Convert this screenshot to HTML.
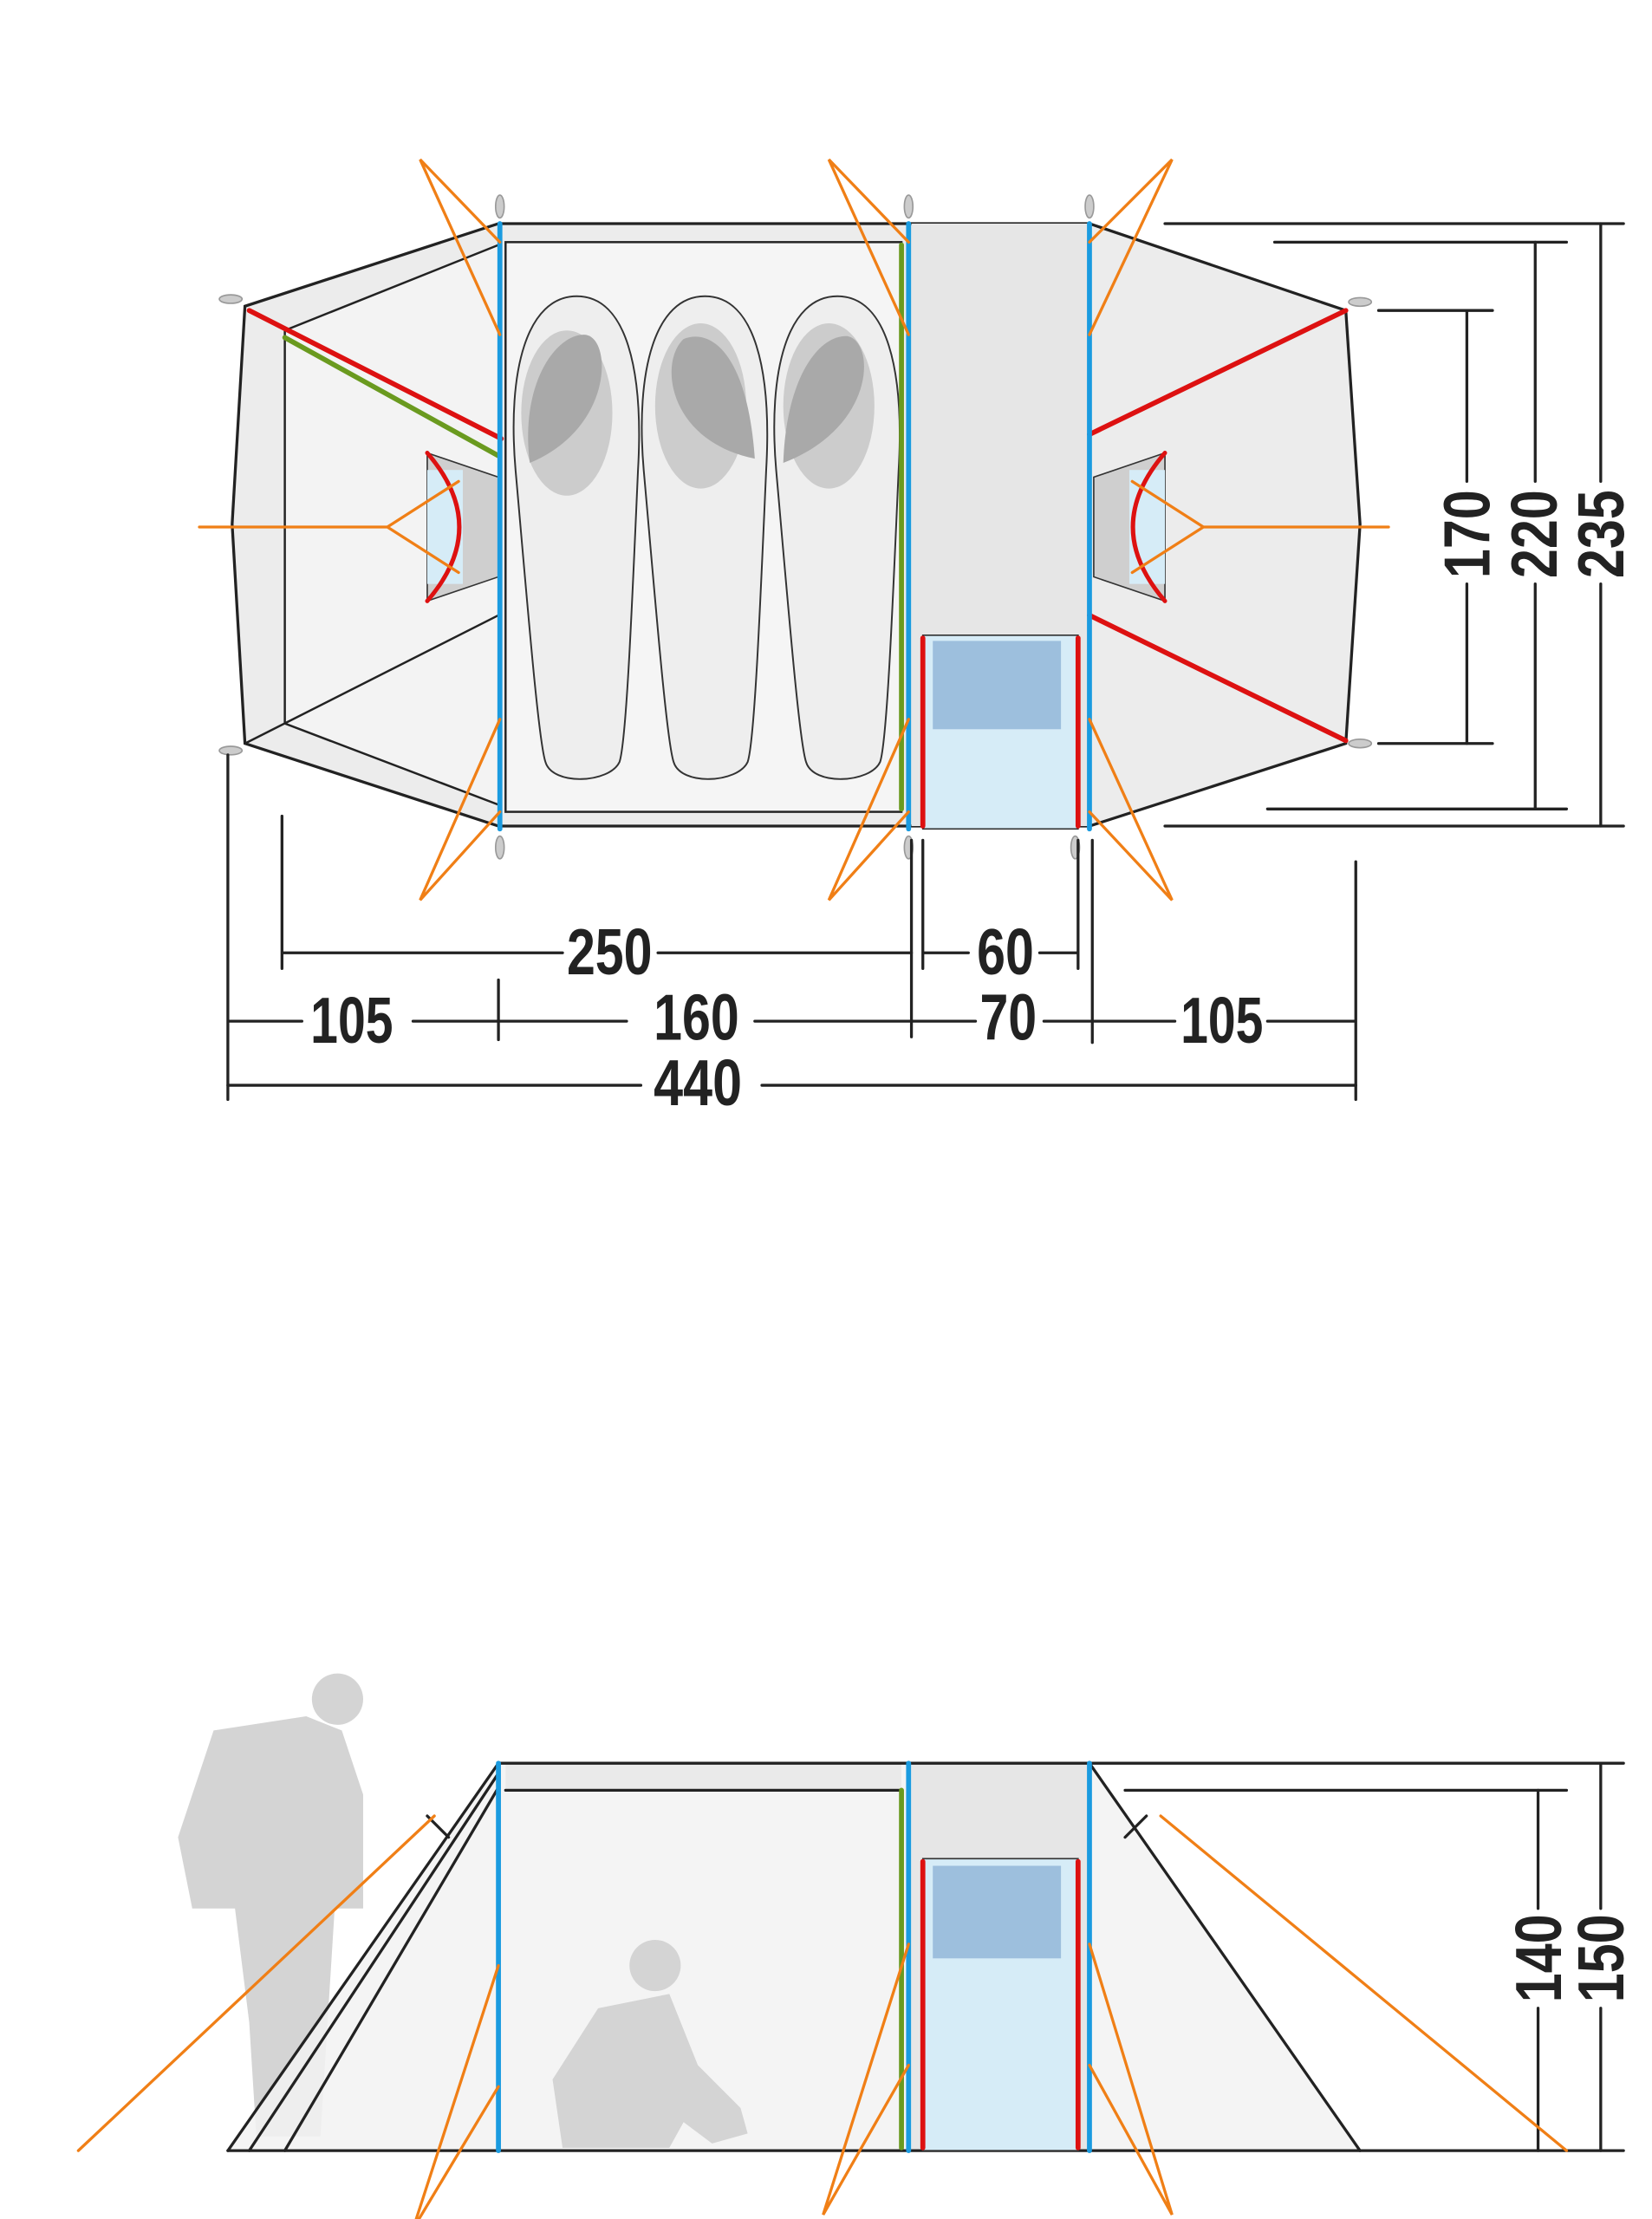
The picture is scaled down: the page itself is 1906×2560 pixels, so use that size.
<!DOCTYPE html>
<html><head><style>html,body{margin:0;padding:0;background:#fff}svg{display:block}
text{font-family:"Liberation Sans",sans-serif;font-weight:bold;font-size:46px;fill:#222}</style></head>
<body>
<svg width="1906" height="2560" viewBox="0 0 1160 1558" preserveAspectRatio="none" xmlns="http://www.w3.org/2000/svg">
<g stroke-linecap="round">
<!-- TOP VIEW -->
<path d="M350,157 L765,157 L945,218 L955,368 L945,522 L765,580 L350,580 L172,522 L163,368 L172,215 Z" fill="#ececec" stroke="#222" stroke-width="2"/>
<path d="M350,172 L200,232 L200,508 L350,565" fill="#f3f3f3" stroke="#222" stroke-width="1.5"/>
<rect x="355" y="170" width="278" height="400" fill="#f5f5f5" stroke="#222" stroke-width="1.5"/>
<rect x="640" y="157" width="124" height="423" fill="#e6e6e6"/>
<line x1="350" y1="432" x2="172" y2="522" stroke="#222" stroke-width="1.5"/>
<g fill="#eeeeee" stroke="#333" stroke-width="1.2">
<path d="M405,208 C440,208 452,260 448,330 C444,420 440,520 435,535 C428,550 388,552 383,535 C378,520 370,420 362,330 C356,260 370,208 405,208 Z"/>
<path d="M495,208 C530,208 542,260 538,330 C534,420 530,520 525,535 C518,550 478,552 473,535 C468,520 460,420 452,330 C446,260 460,208 495,208 Z"/>
<path d="M588,208 C623,208 635,260 631,330 C627,420 623,520 618,535 C611,550 571,552 566,535 C561,520 553,420 545,330 C539,260 553,208 588,208 Z"/>
</g>
<g fill="#cccccc"><ellipse cx="398" cy="290" rx="32" ry="58"/><ellipse cx="492" cy="285" rx="32" ry="58"/><ellipse cx="582" cy="285" rx="32" ry="58"/></g>
<g fill="#a9a9a9"><path d="M372,325 C365,270 390,235 410,235 C430,235 432,300 372,325Z"/><path d="M530,322 C470,310 462,255 480,238 C500,230 525,250 530,322Z"/><path d="M550,325 C552,265 575,235 595,236 C615,240 615,300 550,325Z"/></g>
<path d="M300,318 L350,335 L350,405 L300,422 Z" fill="#cfcfcf" stroke="#333" stroke-width="1"/>
<rect x="300" y="330" width="25" height="80" fill="#d6ecf7"/>
<path d="M300,318 Q345,370 300,422" fill="none" stroke="#d11" stroke-width="3"/>
<path d="M818,318 L768,335 L768,405 L818,422 Z" fill="#cfcfcf" stroke="#333" stroke-width="1"/>
<rect x="793" y="330" width="25" height="80" fill="#d6ecf7"/>
<path d="M818,318 Q773,370 818,422" fill="none" stroke="#d11" stroke-width="3"/>
<rect x="648" y="446" width="109" height="136" fill="#d6ecf7" stroke="#333" stroke-width="1"/>
<rect x="655" y="450" width="90" height="62" fill="#9dbfdd"/>
<g stroke="#d11" stroke-width="3.5"><line x1="648" y1="448" x2="648" y2="580"/><line x1="757" y1="448" x2="757" y2="580"/>
<line x1="175" y1="218" x2="352" y2="308"/><line x1="765" y1="305" x2="945" y2="218"/><line x1="765" y1="432" x2="945" y2="520"/></g>
<g stroke="#6a9a1f" stroke-width="3.5"><line x1="633" y1="172" x2="633" y2="568"/><line x1="200" y1="237" x2="350" y2="320"/></g>
<g stroke="#1a9be0" stroke-width="3.5"><line x1="351" y1="157" x2="351" y2="582"/><line x1="638" y1="157" x2="638" y2="582"/><line x1="765" y1="157" x2="765" y2="582"/></g>
<g stroke="#f07f16" stroke-width="2" fill="none">
<path d="M351,170 L295,112 L351,235"/><path d="M351,570 L295,632 L351,505"/>
<path d="M638,170 L582,112 L638,235"/><path d="M638,570 L582,632 L638,505"/>
<path d="M765,170 L823,112 L765,235"/><path d="M765,570 L823,632 L765,505"/>
<path d="M140,370 L272,370 M322,338 L272,370 L322,402"/>
<path d="M975,370 L845,370 M795,338 L845,370 L795,402"/>
</g>
<g fill="#ccc" stroke="#999" stroke-width="1"><ellipse cx="351" cy="145" rx="3" ry="8"/><ellipse cx="638" cy="145" rx="3" ry="8"/><ellipse cx="765" cy="145" rx="3" ry="8"/>
<ellipse cx="351" cy="595" rx="3" ry="8"/><ellipse cx="638" cy="595" rx="3" ry="8"/><ellipse cx="755" cy="595" rx="3" ry="8"/>
<ellipse cx="162" cy="210" rx="8" ry="3"/><ellipse cx="162" cy="527" rx="8" ry="3"/><ellipse cx="955" cy="212" rx="8" ry="3"/><ellipse cx="955" cy="522" rx="8" ry="3"/></g>
<g stroke="#222" stroke-width="2" fill="none">
<path d="M818,157 H1140 M895,170 H1100 M968,218 H1048 M968,522 H1048 M890,568 H1100 M818,580 H1140"/>
<path d="M1030,218 V338 M1030,410 V522 M1078,170 V338 M1078,410 V568 M1124,157 V338 M1124,410 V580"/>
<path d="M198,573 V680 M198,669 H395 M462,669 H640 M648,590 V680 M648,669 H680 M730,669 H757 M757,590 V680"/>
<path d="M160,530 V772 M160,717 H212 M290,717 H440 M350,688 V730 M530,717 H685 M640,590 V728 M733,717 H825 M767,590 V732 M890,717 H952 M952,605 V772"/>
<path d="M160,762 H450 M535,762 H952"/>
</g>
<text x="398" y="684" textLength="60" lengthAdjust="spacingAndGlyphs">250</text>
<text x="686" y="684" textLength="40" lengthAdjust="spacingAndGlyphs">60</text>
<text x="218" y="732" textLength="58" lengthAdjust="spacingAndGlyphs">105</text>
<text x="459" y="730" textLength="60" lengthAdjust="spacingAndGlyphs">160</text>
<text x="688" y="730" textLength="40" lengthAdjust="spacingAndGlyphs">70</text>
<text x="829" y="732" textLength="58" lengthAdjust="spacingAndGlyphs">105</text>
<text x="459" y="776" textLength="62" lengthAdjust="spacingAndGlyphs">440</text>
<text transform="translate(1046,375) rotate(-90)" x="-31" textLength="62" lengthAdjust="spacingAndGlyphs">170</text>
<text transform="translate(1093,375) rotate(-90)" x="-31" textLength="62" lengthAdjust="spacingAndGlyphs">220</text>
<text transform="translate(1140,375) rotate(-90)" x="-31" textLength="62" lengthAdjust="spacingAndGlyphs">235</text>

<!-- SIDE VIEW -->
<g fill="#d4d4d4">
<circle cx="237" cy="1193" r="18"/><path d="M150,1215 L215,1205 L240,1215 L255,1260 L255,1340 L235,1340 L230,1420 L225,1500 L180,1500 L175,1420 L165,1340 L135,1340 L125,1290 Z"/>
</g>
<path d="M350,1238 L765,1238 L955,1510 L160,1510 Z" fill="#f2f2f2" fill-opacity="0.85"/>
<rect x="640" y="1238" width="124" height="272" fill="#e6e6e6"/>
<rect x="355" y="1238" width="278" height="18" fill="#eaeaea"/>
<g fill="#d4d4d4">
<circle cx="460" cy="1380" r="18"/><path d="M420,1410 L470,1400 L490,1450 L520,1480 L525,1498 L500,1505 L480,1490 L470,1508 L395,1508 L388,1460 Z"/>
</g>
<g stroke="#222" stroke-width="2" fill="none">
<path d="M350,1238 H1140 M355,1257 H633 M790,1257 H1100 M160,1510 H1140"/>
<path d="M350,1238 L160,1510 M350,1245 L175,1510 M350,1255 L200,1510 M765,1238 L955,1510"/>
<path d="M300,1275 L315,1290 M805,1275 L790,1290"/>
<path d="M1080,1257 V1340 M1080,1410 V1510 M1124,1238 V1340 M1124,1410 V1510"/>
</g>
<rect x="648" y="1305" width="109" height="205" fill="#d6ecf7" stroke="#333" stroke-width="1"/>
<rect x="655" y="1310" width="90" height="65" fill="#9dbfdd"/>
<g stroke="#d11" stroke-width="3.5"><line x1="648" y1="1307" x2="648" y2="1508"/><line x1="757" y1="1307" x2="757" y2="1508"/></g>
<line x1="633" y1="1257" x2="633" y2="1508" stroke="#6a9a1f" stroke-width="3.5"/>
<g stroke="#1a9be0" stroke-width="3.5"><line x1="350" y1="1238" x2="350" y2="1510"/><line x1="638" y1="1238" x2="638" y2="1510"/><line x1="765" y1="1238" x2="765" y2="1510"/></g>
<g stroke="#f07f16" stroke-width="2" fill="none">
<path d="M55,1510 L305,1275"/><path d="M815,1275 L1100,1510"/>
<path d="M350,1380 L290,1565 L350,1465"/><path d="M638,1365 L578,1555 L638,1450"/><path d="M765,1365 L823,1555 L765,1450"/>
</g>
<text transform="translate(1096,1375) rotate(-90)" x="-31" textLength="62" lengthAdjust="spacingAndGlyphs">140</text>
<text transform="translate(1140,1375) rotate(-90)" x="-31" textLength="62" lengthAdjust="spacingAndGlyphs">150</text>
</g>
</svg>
</body></html>
